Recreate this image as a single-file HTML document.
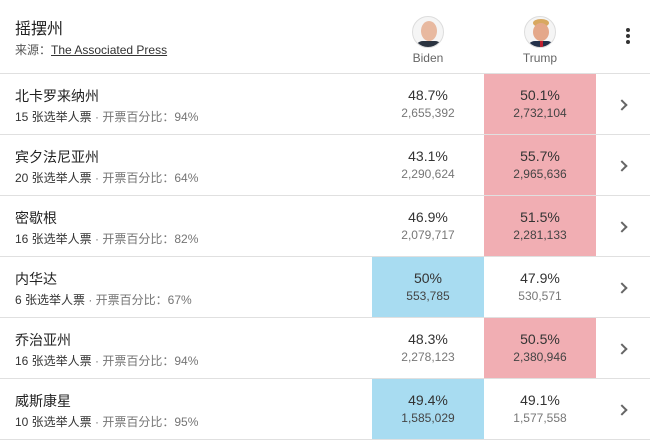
<!DOCTYPE html>
<html><head><meta charset="utf-8"><style>
*{margin:0;padding:0;box-sizing:border-box}
body{width:650px;height:440px;background:#fff;font-family:"Liberation Sans","Noto Sans CJK SC",sans-serif;position:relative;overflow:hidden;color:#222}
.a{position:absolute}
.hl{position:absolute;left:0;width:650px;height:1px;background:#e0e0e0}
.t1{font-size:14px;color:#222;white-space:nowrap}
.t2{font-size:12px;color:#757575;white-space:nowrap}
.t2 b{font-weight:normal;color:#333}
.cell{position:absolute;width:112px;height:60px;text-align:center}
.cell .p{position:absolute;left:0;right:0;top:13px;font-size:14px;color:#333}
.cell .n{position:absolute;left:0;right:0;top:32px;font-size:12px;color:#777}
.bl{background:#a8dcf1}.bl .n{color:#444}
.rd{background:#f1aeb3}.rd .n{color:#444}
.chev{position:absolute;left:618px;width:8px;height:8px;border-right:2px solid #666;border-top:2px solid #666;transform:rotate(45deg)}
.av{position:absolute;width:32px;height:32px;border-radius:50%;border:1px solid #ddd;overflow:hidden;background:#f5f5f5}
</style></head><body>
<div class="a" style="left:15px;top:15px;font-size:16px;color:#222">摇摆州</div>
<div class="a" style="left:15px;top:41px;font-size:12px;color:#555">来源：<span style="text-decoration:underline;color:#333">The Associated Press</span></div>
<div class="av" style="left:412px;top:16px"><div style="position:absolute;left:8px;top:4px;width:16px;height:20px;border-radius:50%;background:#e8b9a0"></div><div style="position:absolute;left:2px;top:24px;width:28px;height:12px;background:#2a3340;border-radius:8px 8px 0 0"></div></div>
<div class="av" style="left:524px;top:16px"><div style="position:absolute;left:8px;top:2px;width:16px;height:8px;border-radius:50%;background:#d8a860"></div><div style="position:absolute;left:8px;top:6px;width:16px;height:18px;border-radius:50%;background:#e4a88a"></div><div style="position:absolute;left:2px;top:24px;width:28px;height:12px;background:#23304a;border-radius:8px 8px 0 0"></div><div style="position:absolute;left:15px;top:24px;width:3px;height:10px;background:#c02030"></div></div>
<div class="a t2" style="left:398px;top:51px;width:60px;text-align:center;color:#666">Biden</div>
<div class="a t2" style="left:510px;top:51px;width:60px;text-align:center;color:#666">Trump</div>
<div class="a" style="left:626px;top:28px;width:4px;height:4px;border-radius:50%;background:#333"></div>
<div class="a" style="left:626px;top:34px;width:4px;height:4px;border-radius:50%;background:#333"></div>
<div class="a" style="left:626px;top:40px;width:4px;height:4px;border-radius:50%;background:#333"></div>

<div class="hl" style="top:73px"></div>
<div class="hl" style="top:134px"></div>
<div class="hl" style="top:195px"></div>
<div class="hl" style="top:256px"></div>
<div class="hl" style="top:317px"></div>
<div class="hl" style="top:378px"></div>
<div class="hl" style="top:439px"></div>

<div class="a t1" style="left:15px;top:86px">北卡罗来纳州</div>
<div class="a t2" style="left:15px;top:108px"><b>15 张选举人票</b> · 开票百分比：94%</div>
<div class="cell" style="left:372px;top:74px"><div class="p">48.7%</div><div class="n">2,655,392</div></div>
<div class="cell rd" style="left:484px;top:74px"><div class="p">50.1%</div><div class="n">2,732,104</div></div>
<div class="chev" style="top:101px"></div>

<div class="a t1" style="left:15px;top:147px">宾夕法尼亚州</div>
<div class="a t2" style="left:15px;top:169px"><b>20 张选举人票</b> · 开票百分比：64%</div>
<div class="cell" style="left:372px;top:135px"><div class="p">43.1%</div><div class="n">2,290,624</div></div>
<div class="cell rd" style="left:484px;top:135px"><div class="p">55.7%</div><div class="n">2,965,636</div></div>
<div class="chev" style="top:162px"></div>

<div class="a t1" style="left:15px;top:208px">密歇根</div>
<div class="a t2" style="left:15px;top:230px"><b>16 张选举人票</b> · 开票百分比：82%</div>
<div class="cell" style="left:372px;top:196px"><div class="p">46.9%</div><div class="n">2,079,717</div></div>
<div class="cell rd" style="left:484px;top:196px"><div class="p">51.5%</div><div class="n">2,281,133</div></div>
<div class="chev" style="top:223px"></div>

<div class="a t1" style="left:15px;top:269px">内华达</div>
<div class="a t2" style="left:15px;top:291px"><b>6 张选举人票</b> · 开票百分比：67%</div>
<div class="cell bl" style="left:372px;top:257px"><div class="p">50%</div><div class="n">553,785</div></div>
<div class="cell" style="left:484px;top:257px"><div class="p">47.9%</div><div class="n">530,571</div></div>
<div class="chev" style="top:284px"></div>

<div class="a t1" style="left:15px;top:330px">乔治亚州</div>
<div class="a t2" style="left:15px;top:352px"><b>16 张选举人票</b> · 开票百分比：94%</div>
<div class="cell" style="left:372px;top:318px"><div class="p">48.3%</div><div class="n">2,278,123</div></div>
<div class="cell rd" style="left:484px;top:318px"><div class="p">50.5%</div><div class="n">2,380,946</div></div>
<div class="chev" style="top:345px"></div>

<div class="a t1" style="left:15px;top:391px">威斯康星</div>
<div class="a t2" style="left:15px;top:413px"><b>10 张选举人票</b> · 开票百分比：95%</div>
<div class="cell bl" style="left:372px;top:379px"><div class="p">49.4%</div><div class="n">1,585,029</div></div>
<div class="cell" style="left:484px;top:379px"><div class="p">49.1%</div><div class="n">1,577,558</div></div>
<div class="chev" style="top:406px"></div>
</body></html>
